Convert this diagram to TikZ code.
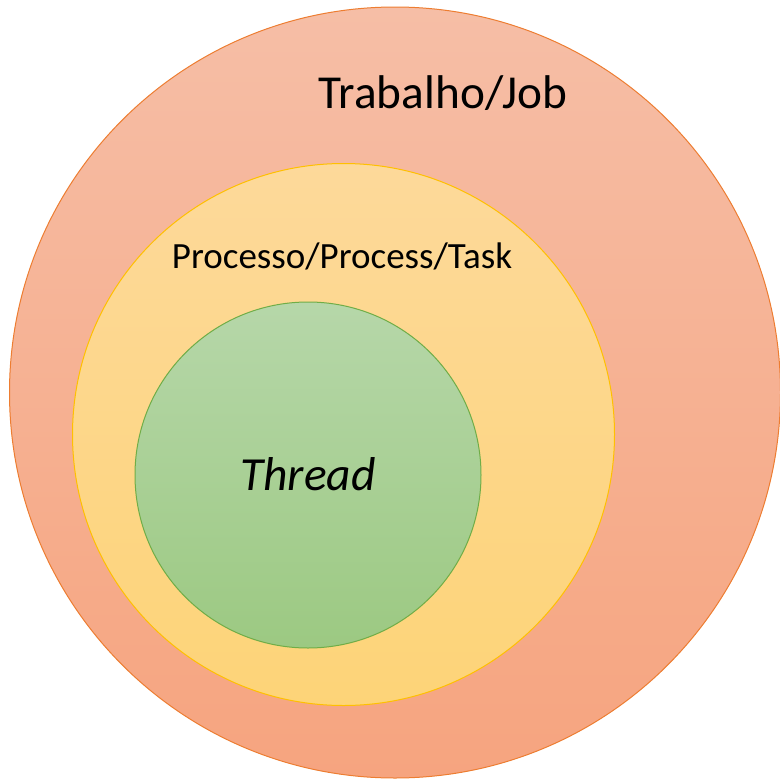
\documentclass[tikz,border=0pt]{standalone}
\usepackage{fontspec}
\setmainfont{Carlito}
\usetikzlibrary{positioning}
\definecolor{jbfilltop}{HTML}{F6BEA6}
\definecolor{jbfillbot}{HTML}{F6A47F}
\definecolor{jbline}{HTML}{ED7D31}
\definecolor{prfilltop}{HTML}{FDD99A}
\definecolor{prfillbot}{HTML}{FDD478}
\definecolor{prline}{HTML}{FFC000}
\definecolor{thfilltop}{HTML}{B6D7A9}
\definecolor{thfillbot}{HTML}{9CC982}
\definecolor{thline}{HTML}{70AD47}
\tikzset{
  set ring/.style={circle, inner sep=0pt, line width=1pt},
  set label/.style={text=black, inner sep=0pt}
}
\begin{document}
\begin{tikzpicture}[x=1pt, y=-1pt]
  \useasboundingbox (0,0) rectangle (779,779);
  % nested sets
  \node[set ring, minimum size=771pt, draw=jbline,
    top color=jbfilltop, bottom color=jbfillbot] (job) at (395,392.5) {};
  \node[set ring, minimum size=542pt, draw=prline,
    top color=prfilltop, bottom color=prfillbot] (proc) at (343.5,434.5) {};
  \node[set ring, minimum size=346pt, draw=thline,
    top color=thfilltop, bottom color=thfillbot] (thr) at (308,475) {};
  % labels
  \node[set label, font=\fontsize{47.3}{52}\selectfont] (joblab) at (443,93) {Trabalho/Job};
  \node[set label, font=\fontsize{37}{42}\selectfont] (proclab) at (342,256) {Processo/Process/Task};
  \node[set label, font=\fontsize{47.5}{52}\selectfont\itshape] (thrlab) at (308,474) {Thread};
\end{tikzpicture}
\end{document}
